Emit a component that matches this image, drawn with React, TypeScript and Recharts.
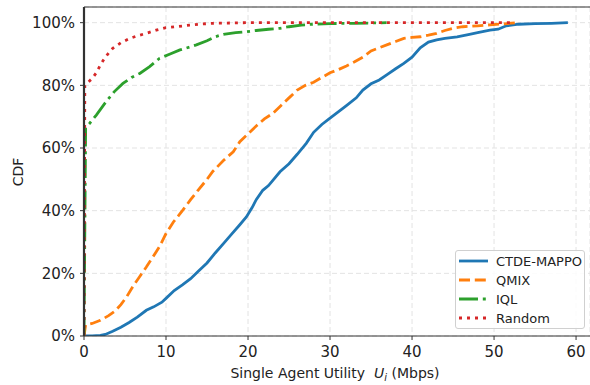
import React from "react"
import {
  LineChart,
  Line,
  XAxis,
  YAxis,
  CartesianGrid,
  Legend,
  ReferenceLine,
  Label,
} from "recharts"

// CDF of single agent utility (x in Mbps, y in %)
const mappoX = [0, 1, 2, 2.6, 3.5, 4.5, 5.5, 6.5, 7.6, 8.5, 9.5, 10, 11, 12, 13, 14, 15, 16, 17, 18, 19, 19.8, 20.5, 21, 21.8, 22.5, 23.9, 25, 26, 27.1, 28, 29, 30, 31, 32, 33.2, 34, 35, 36, 37, 38, 39, 40, 41, 42, 43, 44, 45.5, 47, 48, 49.5, 50.5, 51.5, 53, 55, 57, 59]
const mappoY = [0, 0, 0.2, 0.5, 1.5, 2.8, 4.3, 6, 8.2, 9.3, 10.8, 12, 14.5, 16.3, 18.3, 20.8, 23.3, 26.5, 29.5, 32.5, 35.5, 38, 41, 43.5, 46.5, 48, 52.4, 55, 58, 61.5, 65, 67.5, 69.5, 71.5, 73.5, 76, 78.5, 80.5, 81.7, 83.5, 85.3, 87, 89, 92, 93.8, 94.5, 95, 95.5, 96.3, 96.8, 97.6, 97.9, 99, 99.5, 99.7, 99.8, 100]

const qmixX = [0, 0.2, 1, 2, 3, 3.8, 4.5, 5.2, 6, 6.8, 7.6, 8.4, 9.2, 10, 10.9, 12, 13, 13.9, 15, 15.7, 17, 18.2, 19, 19.8, 21, 22, 23, 24, 25, 26, 27, 28, 29, 30, 31, 32, 33, 34, 35, 36, 37, 38, 39, 40, 41, 42, 43, 44, 45, 46.2, 48, 49.5, 51, 52.9]
const qmixY = [0, 3.5, 4, 5, 6.5, 8, 10, 12.5, 16, 19, 22, 25.2, 28.5, 32.7, 36.4, 40, 43.5, 46.5, 50, 52.5, 56, 58.8, 62, 64, 67, 69.3, 71, 73.5, 76, 78.5, 80, 81, 82.5, 84, 85, 86.2, 87.5, 89, 91, 92, 93, 94, 95, 95.3, 95.5, 96, 96.6, 97.5, 98.2, 98.7, 99, 99.3, 99.6, 100]

const iqlX = [0, 0.2, 0.7, 1.5, 2.7, 3.7, 4.75, 5.8, 6.8, 8, 9.2, 10.5, 11.7, 13, 13.7, 15, 16, 17, 18.5, 19.8, 21, 22.5, 23.9, 25, 26.5, 27.9, 30, 33, 36.9]
const iqlY = [0, 66.5, 67.9, 70.5, 74.8, 78, 80.6, 82.5, 83.8, 86, 88.6, 90, 91.3, 92.3, 92.9, 94.2, 95.5, 96.3, 96.8, 97.1, 97.5, 97.9, 98.2, 98.7, 99.2, 99.5, 99.7, 99.8, 100]

const randomX = [0, 0.1, 0.5, 1, 1.5, 2, 2.5, 3, 3.5, 4.5, 5.6, 6.5, 7.6, 8.8, 10, 11.5, 12.9, 14, 15.7, 18, 20, 52.5]
const randomY = [0, 80, 81, 82.2, 84, 86.5, 88.6, 90.3, 91.8, 93.6, 95, 95.8, 96.6, 97.6, 98.4, 98.8, 99.2, 99.5, 99.8, 99.9, 100, 100]

const xTicks = [0, 10, 20, 30, 40, 50, 60]
const yTicks = [0, 20, 40, 60, 80, 100]

const toPoints = (xs: number[], ys: number[]) => xs.map((x, i) => ({ x, y: ys[i] }))

const SERIES = [
  { name: "CTDE-MAPPO", color: "#1f77b4", dash: undefined, data: toPoints(mappoX, mappoY) },
  { name: "QMIX", color: "#ff7f0e", dash: "11 4.8", data: toPoints(qmixX, qmixY) },
  { name: "IQL", color: "#2ca02c", dash: "19 4.8 3 4.8", data: toPoints(iqlX, iqlY) },
  { name: "Random", color: "#d62728", dash: "3 5", data: toPoints(randomX, randomY) },
]

const FONT = "DejaVu Sans, sans-serif"
const TEXT = "#222"
const SPINE = "#333"

function LegendBox() {
  return (
    <div
      style={{
        width: 128,
        height: 77,
        border: "1px solid #d0d0d0",
        borderRadius: 3,
        background: "rgba(255,255,255,0.85)",
        fontFamily: FONT,
        fontSize: 13,
        color: TEXT,
      }}
    >
      <svg width={128} height={77}>
        {SERIES.map((s, i) => {
          const cy = 10 + i * 19
          return (
            <g key={s.name}>
              <line x1={3} x2={32} y1={cy} y2={cy} stroke={s.color} strokeWidth={2.8} strokeDasharray={s.dash} />
              <text x={40} y={cy + 4.5} fontSize={13} fill={TEXT} fontFamily={FONT}>
                {s.name}
              </text>
            </g>
          )
        })}
      </svg>
    </div>
  )
}

function XLabel({ viewBox }: any) {
  const cx = viewBox.x + viewBox.width / 2
  return (
    <text x={cx - 2} y={378} textAnchor="middle" fontSize={14} fill={TEXT} fontFamily={FONT}>
      <tspan>Single Agent Utility</tspan>
      <tspan fontStyle="italic" dx={9}>U</tspan>
      <tspan fontStyle="italic" fontSize={10} dy={3}>i</tspan>
      <tspan dy={-3}> (Mbps)</tspan>
    </text>
  )
}

function YLabel() {
  return (
    <text x={23} y={172} transform="rotate(-90 23 172)" textAnchor="middle" fontSize={14} fill={TEXT} fontFamily={FONT}>
      CDF
    </text>
  )
}

export default function App() {
  return (
    <div style={{ position: "absolute", left: 0, top: 0, width: 590, height: 385, background: "#fff" }}>
      <LineChart width={590} height={385} margin={{ top: 7, right: 0, bottom: 0, left: 0 }}>
        <CartesianGrid stroke="#e3e3e3" strokeDasharray="5 3" />
        <XAxis
          type="number"
          dataKey="x"
          domain={[0, 61.7]}
          ticks={xTicks}
          allowDataOverflow
          height={49}
          tickSize={4}
          tickMargin={6}
          stroke={SPINE}
          tick={{ fontSize: 15, fill: TEXT, fontFamily: FONT }}
        >
          <Label content={<XLabel />} />
        </XAxis>
        <YAxis
          type="number"
          dataKey="y"
          domain={[0, 105]}
          ticks={yTicks}
          allowDataOverflow
          width={84}
          tickSize={4}
          tickMargin={5}
          stroke={SPINE}
          tickFormatter={(v) => `${v}%`}
          tick={{ fontSize: 15, fill: TEXT, fontFamily: FONT }}
        >
          <Label content={<YLabel />} />
        </YAxis>
        <ReferenceLine y={105} stroke={SPINE} strokeWidth={1} />
        {SERIES.map((s) => (
          <Line
            key={s.name}
            data={s.data}
            dataKey="y"
            name={s.name}
            type="linear"
            stroke={s.color}
            strokeWidth={2.8}
            strokeDasharray={s.dash}
            dot={false}
            activeDot={false}
            isAnimationActive={false}
          />
        ))}
        {/* spine on top of the series, like matplotlib */}
        <ReferenceLine x={0} stroke={SPINE} strokeWidth={2.2} />
        <Legend
          layout="vertical"
          align="center"
          verticalAlign="middle"
          content={<LegendBox />}
          wrapperStyle={{ left: 455, top: 250, width: 130, height: 79 }}
        />
      </LineChart>
    </div>
  )
}
